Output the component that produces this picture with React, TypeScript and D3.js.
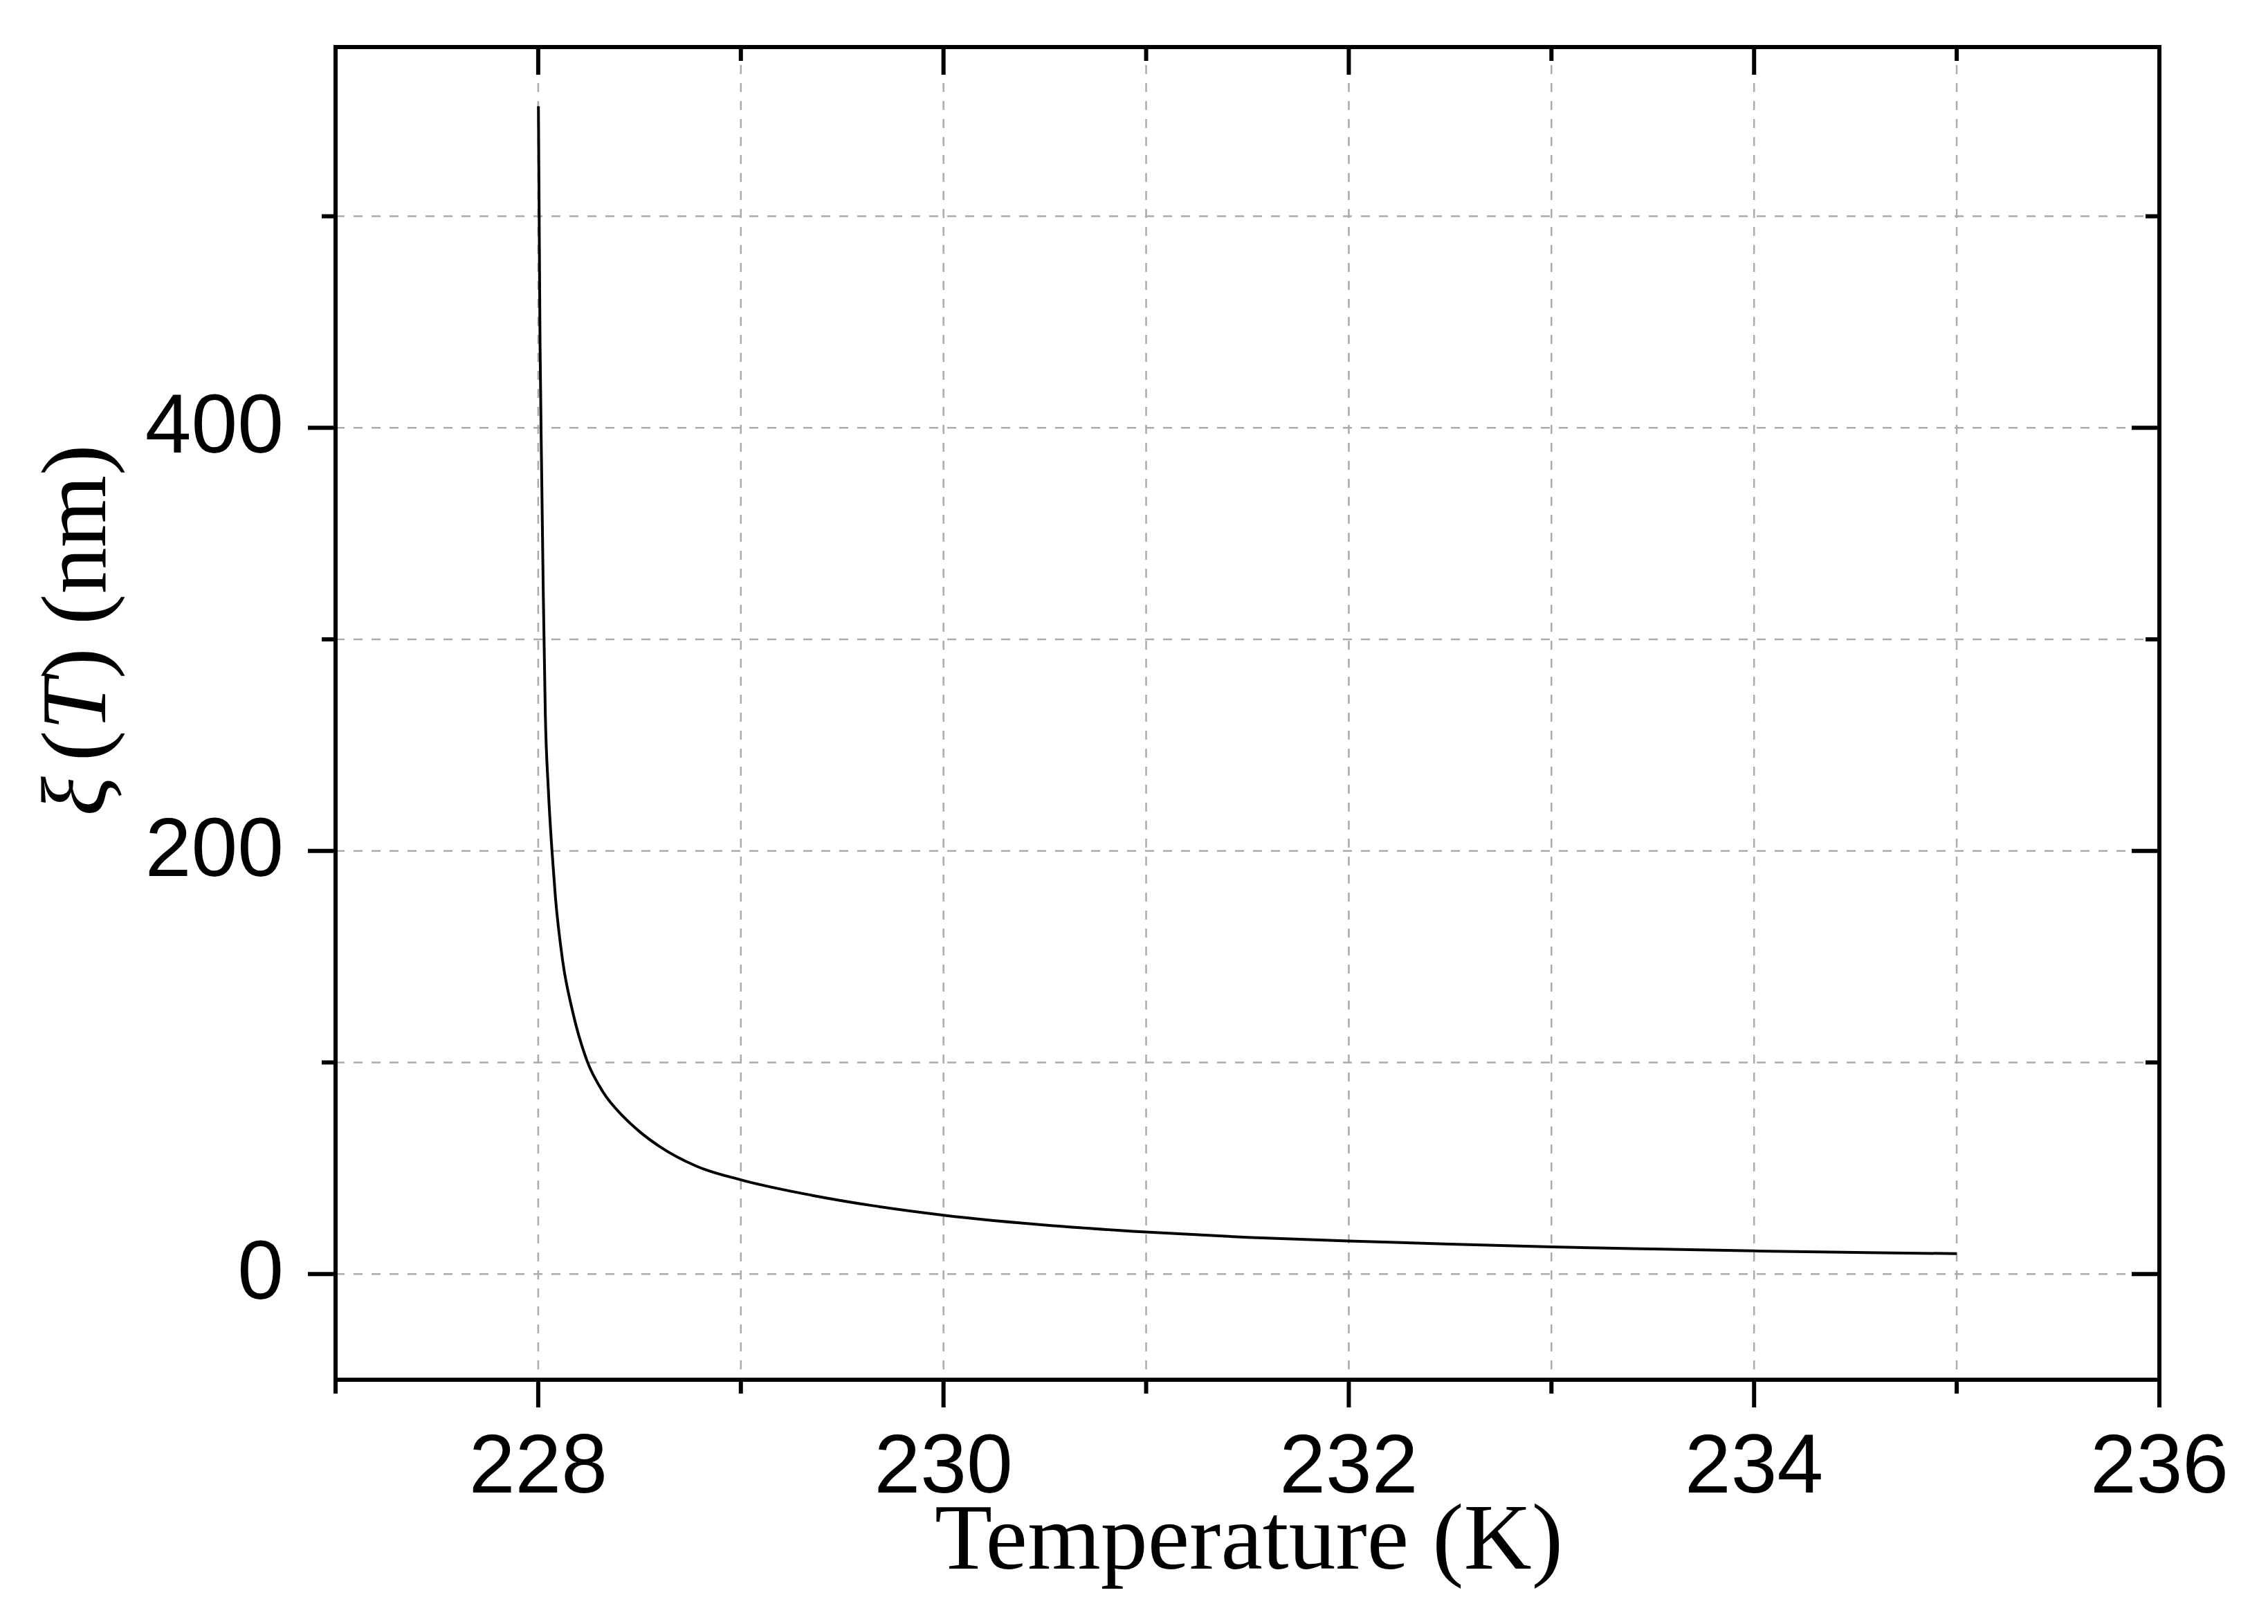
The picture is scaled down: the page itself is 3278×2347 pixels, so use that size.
import React from "react";
import * as d3 from "d3";

const temps = [228.001, 228.009, 228.018, 228.025, 228.035, 228.05, 228.068, 228.085, 228.12, 228.17, 228.24, 228.32, 228.42, 228.5, 228.6, 228.78, 229.0, 229.35, 229.65, 230.0, 230.57, 231.0, 231.5, 232.0, 232.5, 233.0, 233.5, 234.0, 234.5, 235.0];
const xiValues = [552, 440, 372, 322, 265, 229, 200, 178, 148.5, 124, 101, 86, 74.4, 67.3, 60.2, 51, 44.5, 37.2, 32.3, 27.8, 22.6, 19.8, 17.3, 15.6, 14.1, 12.8, 11.8, 10.9, 10.2, 9.6];

const xMajorTicks = [228, 230, 232, 234, 236];
const xMinorTicks = [227, 229, 231, 233, 235];
const xGrid = [228, 229, 230, 231, 232, 233, 234, 235];
const yMajorTicks = [0, 200, 400];
const yMinorTicks = [100, 300, 500];
const yGrid = [0, 100, 200, 300, 400, 500];

const W = 3278;
const H = 2347;
const M = { left: 485, right: 3121, top: 68, bottom: 1994 };

export default function App() {
  const x = d3.scaleLinear().domain([227, 236]).range([M.left, M.right]);
  const y = d3.scaleLinear().domain([-50, 580]).range([M.bottom, M.top]);
  const pts = temps.map((t, i) => [t, xiValues[i]] as [number, number]);
  const line = d3
    .line<[number, number]>()
    .x((d) => x(d[0]))
    .y((d) => y(d[1]))
    .curve(d3.curveMonotoneX);

  const sans = "'Liberation Sans', Arial, sans-serif";
  const serif = "'Liberation Serif', 'Times New Roman', serif";
  const majorLen = 40;
  const minorLen = 20;
  const axisW = 6;

  return (
    <svg
      width={W}
      height={H}
      viewBox={`0 0 ${W} ${H}`}
      style={{ position: "absolute", left: 0, top: 0, display: "block", background: "#fff" }}
    >
      <rect x={0} y={0} width={W} height={H} fill="#fff" />
      {/* grid */}
      <g stroke="#ababab" strokeWidth={2.5} strokeDasharray="13,13" fill="none">
        {xGrid.map((t) => (
          <line key={"gx" + t} x1={x(t)} x2={x(t)} y1={M.top} y2={M.bottom} />
        ))}
        {yGrid.map((v) => (
          <line key={"gy" + v} x1={M.left} x2={M.right} y1={y(v)} y2={y(v)} />
        ))}
      </g>
      {/* curve */}
      <path d={line(pts) || ""} fill="none" stroke="#000" strokeWidth={4} strokeLinejoin="round" />
      {/* frame */}
      <rect
        x={M.left}
        y={M.top}
        width={M.right - M.left}
        height={M.bottom - M.top}
        fill="none"
        stroke="#000"
        strokeWidth={axisW}
      />
      {/* ticks */}
      <g stroke="#000" strokeWidth={axisW}>
        {xMajorTicks.map((t) => (
          <g key={"xm" + t}>
            <line x1={x(t)} x2={x(t)} y1={M.bottom} y2={M.bottom + majorLen} />
            <line x1={x(t)} x2={x(t)} y1={M.top} y2={M.top + majorLen} />
          </g>
        ))}
        {xMinorTicks.map((t) => (
          <g key={"xn" + t}>
            <line x1={x(t)} x2={x(t)} y1={M.bottom} y2={M.bottom + minorLen} />
            <line x1={x(t)} x2={x(t)} y1={M.top} y2={M.top + minorLen} />
          </g>
        ))}
        {yMajorTicks.map((v) => (
          <g key={"ym" + v}>
            <line x1={M.left - majorLen} x2={M.left} y1={y(v)} y2={y(v)} />
            <line x1={M.right - majorLen} x2={M.right} y1={y(v)} y2={y(v)} />
          </g>
        ))}
        {yMinorTicks.map((v) => (
          <g key={"yn" + v}>
            <line x1={M.left - minorLen} x2={M.left} y1={y(v)} y2={y(v)} />
            <line x1={M.right - minorLen} x2={M.right} y1={y(v)} y2={y(v)} />
          </g>
        ))}
      </g>
      {/* tick labels */}
      <g fontFamily={sans} fontSize={120} fill="#000">
        {xMajorTicks.map((t) => (
          <text key={"xl" + t} x={x(t)} y={2157} textAnchor="middle">
            {t}
          </text>
        ))}
        {yMajorTicks.map((v) => (
          <text key={"yl" + v} x={410} y={y(v) + 36} textAnchor="end">
            {v}
          </text>
        ))}
      </g>
      {/* axis titles */}
      <text x={1805} y={2267} textAnchor="middle" fontFamily={serif} fontSize={136} fill="#000">
        Temperature (K)
      </text>
      <text
        transform="translate(152, 911) rotate(-90)"
        textAnchor="middle"
        fontFamily={serif}
        fontSize={134}
        fill="#000"
      >
        <tspan fontStyle="italic">ξ</tspan>
        <tspan dx={22}>(</tspan>
        <tspan fontStyle="italic">T</tspan>
        <tspan>) (nm)</tspan>
      </text>
    </svg>
  );
}
